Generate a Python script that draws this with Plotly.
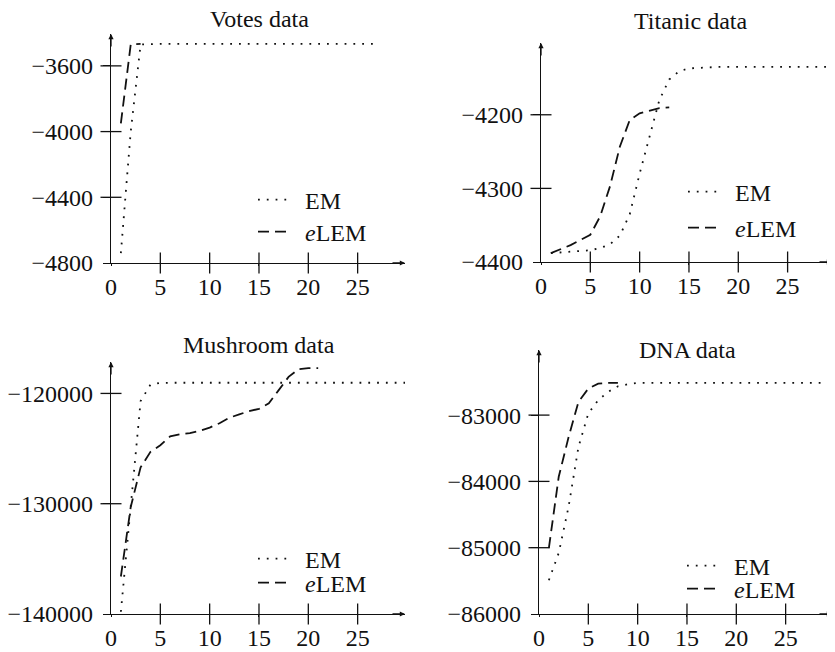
import plotly.graph_objects as go

# ---------------- data ----------------
votes_em_x = list(range(1, 28))
votes_em_y = [-4740, -4000, -3470] + [-3466] * 24
votes_elem_x = [1, 2, 3]
votes_elem_y = [-3950, -3470, -3466]

titanic_em_x = list(range(1, 31))
titanic_em_y = [-4388, -4387, -4386, -4385, -4384, -4381, -4376, -4364, -4335, -4280,
                -4228, -4180, -4152, -4141, -4137, -4136] + [-4135] * 14
titanic_elem_x = list(range(1, 14))
titanic_elem_y = [-4388, -4383, -4377, -4370, -4363, -4338, -4297, -4243, -4207, -4198,
                  -4194, -4191, -4190]

mushroom_em_x = list(range(1, 31))
mushroom_em_y = [-139800, -130500, -120700, -119200, -119050] + [-119030] * 25
mushroom_elem_x = list(range(1, 22))
mushroom_elem_y = [-136600, -130300, -126700, -125300, -124700, -123900, -123700, -123600,
                   -123400, -123100, -122700, -122200, -121900, -121600, -121400, -120900,
                   -119700, -118500, -117800, -117700, -117700]

dna_em_x = list(range(1, 31))
dna_em_y = [-85490, -85080, -84380, -83480, -82975, -82775, -82650, -82565, -82535] + [-82515] * 21
dna_elem_x = list(range(1, 9))
dna_elem_y = [-85005, -83930, -83330, -82800, -82600, -82525, -82515, -82515]

titles = ["Votes data", "Titanic data", "Mushroom data", "DNA data"]
x_ticks = [0, 5, 10, 15, 20, 25]
y_ticks = [
    [-4800, -4400, -4000, -3600],
    [-4400, -4300, -4200],
    [-140000, -130000, -120000],
    [-86000, -85000, -84000, -83000],
]
series_names = ["EM", "<i>e</i>LEM"]

# ---------------- layout geometry (screen pixels) ----------------
W, H = 835, 652
OFF = 8  # default page body margin
FONT = "Liberation Serif, DejaVu Serif, Times New Roman, serif"
FS = 24
INK = "#111111"

panels = [
    dict(x0=111, x1=405, yb=263, yt=34, xr=[0, 29.8], yr=[-4800, -3406],
         data=[(votes_em_x, votes_em_y), (votes_elem_x, votes_elem_y)],
         title=(260, 19), leg=(258, [200, 232])),
    dict(x0=541, x1=832, yb=262, yt=43, xr=[0, 29.5], yr=[-4400, -4102.5],
         data=[(titanic_em_x, titanic_em_y), (titanic_elem_x, titanic_elem_y)],
         title=(690, 21), leg=(688, [192, 228])),
    dict(x0=111, x1=405, yb=614, yt=362, xr=[0, 29.8], yr=[-140000, -117150],
         data=[(mushroom_em_x, mushroom_em_y), (mushroom_elem_x, mushroom_elem_y)],
         title=(259, 345), leg=(258, [559, 583])),
    dict(x0=539, x1=832, yb=614, yt=350, xr=[0, 29.7], yr=[-86000, -82018],
         data=[(dna_em_x, dna_em_y), (dna_elem_x, dna_elem_y)],
         title=(687, 350), leg=(687, [566, 589])),
]

dashes = ["1.8px,7px", "11px,6px"]

fig = go.Figure()
layout = dict(
    template="none",
    width=W, height=H,
    margin=dict(l=0, r=0, t=0, b=0),
    paper_bgcolor="white", plot_bgcolor="rgba(0,0,0,0)",
    font=dict(family=FONT, size=FS, color=INK),
    showlegend=True,
    annotations=[],
)

def px(xp):
    return (xp - OFF) / W

def py(yp):
    return 1 - (yp - OFF) / H

leg_id = 0
for i, p in enumerate(panels):
    n = i + 1
    xa = "x" if n == 1 else f"x{n}"
    ya = "y" if n == 1 else f"y{n}"
    xkey = "xaxis" if n == 1 else f"xaxis{n}"
    ykey = "yaxis" if n == 1 else f"yaxis{n}"
    xdom = [px(p["x0"]), px(p["x1"])]
    ydom = [py(p["yb"]), py(p["yt"])]
    layout[xkey] = dict(domain=xdom, range=p["xr"], anchor=ya, showline=True,
                        linecolor=INK, linewidth=1.3,
                        ticks="outside", ticklen=2, tickwidth=1.3, tickcolor=INK,
                        tickmode="array", tickvals=x_ticks,
                        ticktext=[str(v) for v in x_ticks],
                        showgrid=False, zeroline=False,
                        tickfont=dict(family=FONT, size=FS, color=INK))
    layout[ykey] = dict(domain=ydom, range=p["yr"], anchor=xa, showline=True,
                        linecolor=INK, linewidth=1.3,
                        ticks="outside", ticklen=7, tickwidth=1.3, tickcolor=INK,
                        ticklabelstandoff=5,
                        tickmode="array", tickvals=y_ticks[i],
                        ticktext=["\u2212" + str(abs(v)) for v in y_ticks[i]],
                        showgrid=False, zeroline=False,
                        tickfont=dict(family=FONT, size=FS, color=INK))
    # tick marks crossing the axis lines (placed at the tick values on the axis lines)
    xt = [v for v in x_ticks if v != p["xr"][0]]
    yt = [v for v in y_ticks[i] if v != p["yr"][0]]
    fig.add_trace(go.Scatter(x=xt, y=[p["yr"][0]] * len(xt), xaxis=xa, yaxis=ya,
                             mode="markers", showlegend=False, hoverinfo="skip",
                             cliponaxis=False,
                             marker=dict(symbol="line-ns-open", size=15, color=INK,
                                         line=dict(width=1.3, color=INK))))
    fig.add_trace(go.Scatter(x=[p["xr"][0]] * len(yt), y=yt, xaxis=xa, yaxis=ya,
                             mode="markers", showlegend=False, hoverinfo="skip",
                             cliponaxis=False,
                             marker=dict(symbol="line-ew-open", size=15, color=INK,
                                         line=dict(width=1.3, color=INK))))
    # data traces
    for k, (xs, ys) in enumerate(p["data"]):
        leg_id += 1
        lname = "legend" if leg_id == 1 else f"legend{leg_id}"
        fig.add_trace(go.Scatter(x=xs, y=ys, mode="lines", xaxis=xa, yaxis=ya,
                                 name="\u00a0\u00a0" + series_names[k],
                                 legend=lname,
                                 line=dict(color=INK, width=1.8, dash=dashes[k])))
        lx, lys = p["leg"]
        layout[lname] = dict(x=px(lx - 5), y=py(lys[k]), xanchor="left", yanchor="middle",
                             bgcolor="rgba(0,0,0,0)", borderwidth=0, itemwidth=30,
                             font=dict(family=FONT, size=FS, color=INK),
                             tracegroupgap=0)
    # axis arrows
    layout["annotations"].append(dict(xref="paper", yref="paper", x=px(p["x1"]), y=py(p["yb"]),
                                      ax=-14, ay=0, text="", showarrow=True, arrowhead=2,
                                      arrowsize=0.8, arrowwidth=1.3, arrowcolor=INK))
    layout["annotations"].append(dict(xref="paper", yref="paper", x=px(p["x0"]), y=py(p["yt"]),
                                      ax=0, ay=14, text="", showarrow=True, arrowhead=2,
                                      arrowsize=0.8, arrowwidth=1.3, arrowcolor=INK))
    # title
    tx, ty = p["title"]
    layout["annotations"].append(dict(xref="paper", yref="paper", x=px(tx), y=py(ty),
                                      xanchor="center", yanchor="middle", text=titles[i],
                                      showarrow=False,
                                      font=dict(family=FONT, size=FS, color=INK)))

fig.update_layout(**layout)
fig.write_html("out.html")
